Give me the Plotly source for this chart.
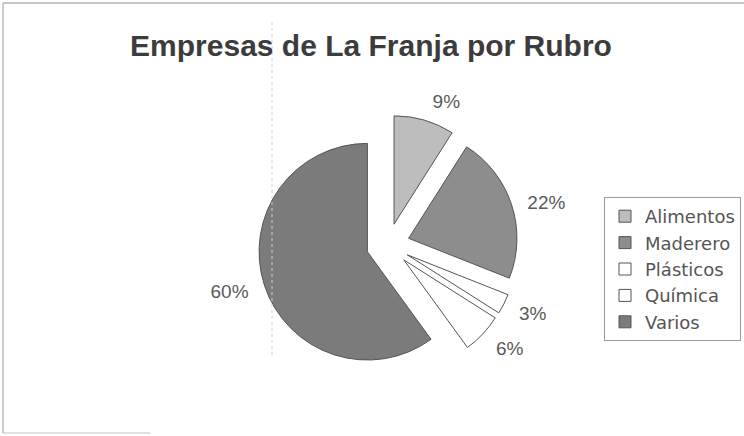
import plotly.graph_objects as go

# datos
rubros = ["Alimentos", "Maderero", "Plásticos", "Química", "Varios"]
porcentajes = [9, 22, 3, 6, 60]
colores = ["#bdbdbd", "#8d8d8d", "#ffffff", "#ffffff", "#7b7b7b"]

W, H = 744, 436


def px(x):
    return x / W


def py(y):
    return 1 - y / H


cx, cy = 388, 245   # centro de la torta (px)
half = 130          # medio lado del dominio de la torta
half_txt = 141      # dominio de la torta invisible que lleva las etiquetas
cy_txt = 247

# torta visible, con todas las porciones separadas
fig = go.Figure(go.Pie(
    labels=rubros,
    values=porcentajes,
    sort=False,
    direction="clockwise",
    rotation=0,
    pull=[0.2] * len(rubros),
    marker=dict(colors=colores, line=dict(color="#555555", width=1)),
    textinfo="none",
    domain=dict(x=[px(cx - half), px(cx + half)], y=[py(cy + half), py(cy - half)]),
    showlegend=True,
))

# torta transparente: solo ubica los porcentajes por fuera
fig.add_trace(go.Pie(
    labels=rubros,
    values=porcentajes,
    sort=False,
    direction="clockwise",
    rotation=0,
    marker=dict(colors=["rgba(0,0,0,0)"] * len(rubros), line=dict(width=0)),
    texttemplate="%{percent:.0%}",
    textposition="outside",
    textfont=dict(family="Liberation Sans, Arial", size=19, color="#5a5a5a"),
    domain=dict(x=[px(cx - half_txt), px(cx + half_txt)],
                y=[py(cy_txt + half_txt), py(cy_txt - half_txt)]),
    showlegend=False,
    hoverinfo="skip",
))

# borde del area del grafico
fig.add_shape(type="line", xref="paper", yref="paper",
              x0=px(3), x1=1, y0=py(3), y1=py(3),
              line=dict(color="#8a8a8a", width=1))
fig.add_shape(type="line", xref="paper", yref="paper",
              x0=px(3), x1=px(3), y0=py(3), y1=py(433),
              line=dict(color="#9a9a9a", width=1))
fig.add_shape(type="line", xref="paper", yref="paper",
              x0=px(3), x1=px(150), y0=py(433), y1=py(433),
              line=dict(color="#c0c0c0", width=1))
# linea punteada tenue del escaneo
fig.add_shape(type="line", xref="paper", yref="paper",
              x0=px(272), x1=px(272), y0=py(22), y1=py(355),
              line=dict(color="#cfcfcf", width=1, dash="dot"))

fig.update_layout(
    width=W, height=H,
    margin=dict(l=0, r=0, t=0, b=0),
    paper_bgcolor="white",
    plot_bgcolor="white",
    font=dict(family="Liberation Sans, Arial", color="#444444"),
    title=dict(
        text="<b>Empresas de La Franja por Rubro</b>",
        x=px(371), xanchor="center",
        y=py(45), yanchor="middle",
        font=dict(family="Liberation Sans, Arial", size=30, color="#3c3c3c"),
    ),
    legend=dict(
        x=px(604), xanchor="left",
        y=py(197), yanchor="top",
        font=dict(family="DejaVu Sans, Liberation Sans", size=18, color="#555555"),
        bordercolor="#9a9a9a", borderwidth=1,
        bgcolor="white",
        itemwidth=30,
    ),
)

# sin margen en el <body> para que el grafico ocupe la ventana entera
fig.write_html("out.html", config={"displayModeBar": False},
               post_script="document.body.style.margin='0';")
